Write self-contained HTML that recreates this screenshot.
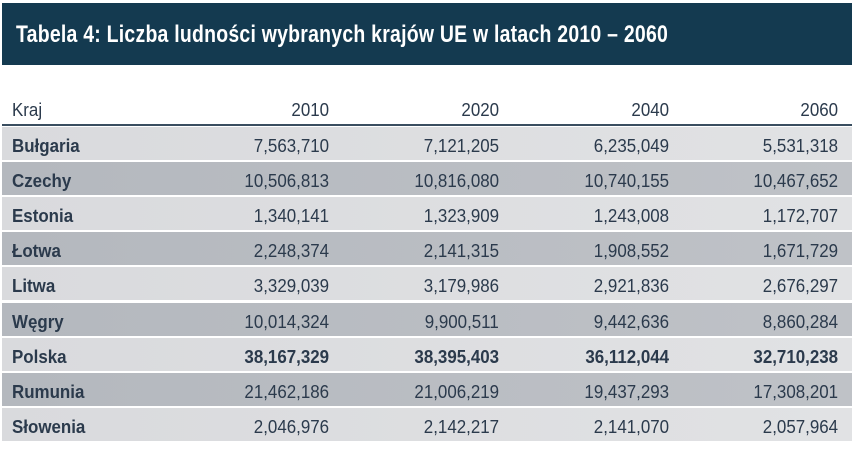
<!DOCTYPE html>
<html><head><meta charset="utf-8"><style>
body{margin:0;width:852px;height:449px;background:#fff;overflow:hidden;font-family:"Liberation Sans",sans-serif;position:relative}
#title{position:absolute;left:2px;top:3px;width:850px;height:62px;background:#143a50}
#title span{position:absolute;left:14px;top:18px;color:#fff;font-weight:bold;font-size:24px;transform:scaleX(.81);transform-origin:left;white-space:nowrap;letter-spacing:.3px}
.t{position:absolute;font-size:18px;color:#2b3a4c;white-space:nowrap;transform:scaleX(.94)}
.r{transform-origin:right}.l{transform-origin:left}
.row{position:absolute;left:2px;width:850px;height:33px}
</style></head><body>
<div id="title"><span>Tabela 4: Liczba ludności wybranych krajów UE w latach 2010 – 2060</span></div>
<div id="tbl"></div>
<script>
const countries=["Bułgaria","Czechy","Estonia","Łotwa","Litwa","Węgry","Polska","Rumunia","Słowenia"];
const years=["2010","2020","2040","2060"];
const v2010=[7563710,10506813,1340141,2248374,3329039,10014324,38167329,21462186,2046976];
const v2020=[7121205,10816080,1323909,2141315,3179986,9900511,38395403,21006219,2142217];
const v2040=[6235049,10740155,1243008,1908552,2921836,9442636,36112044,19437293,2141070];
const v2060=[5531318,10467652,1172707,1671729,2676297,8860284,32710238,17308201,2057964];
const series=[v2010,v2020,v2040,v2060];
const rights=[329,499,669,838];
const tbl=document.getElementById('tbl');
const fmt=n=>n.toString().replace(/\B(?=(\d{3})+(?!\d))/g,",");
function txt(s,x,y,right,bold,name){
  const d=document.createElement('div');
  
  
  d.className='t '+(right?'r':'l');
  d.textContent=s;
  d.style.top=(y-8)+'px';
  if(right){d.style.right=(852-x)+'px';}else{d.style.left=x+'px';}
  if(bold)d.style.fontWeight='bold';
  tbl.appendChild(d);
}
txt("Kraj",12,108,false,false,'header-kraj');
years.forEach((y,j)=>txt(y,rights[j],108,true,false,'header-'+y));
const line=document.createElement('div');


line.style.cssText='position:absolute;left:2px;width:850px;top:124px;height:2px;background:#3a4e60';
tbl.appendChild(line);
countries.forEach((c,i)=>{
  const top=127+i*35.1;
  const r=document.createElement('div');
  
  
  r.className='row';
  r.style.top=top+'px';
  r.style.background=i%2?'linear-gradient(90deg,#b4b8be,#bfc2c7)':'linear-gradient(90deg,#d9dadd,#e1e2e4)';
  tbl.appendChild(r);
  const cy=top+17;
  const bold=c==="Polska";
  txt(c,12,cy,false,true,'country-'+c.toLowerCase());
  series.forEach((s,j)=>txt(fmt(s[i]),rights[j],cy,true,bold,'value-'+years[j]));
});
</script>
</body></html>
